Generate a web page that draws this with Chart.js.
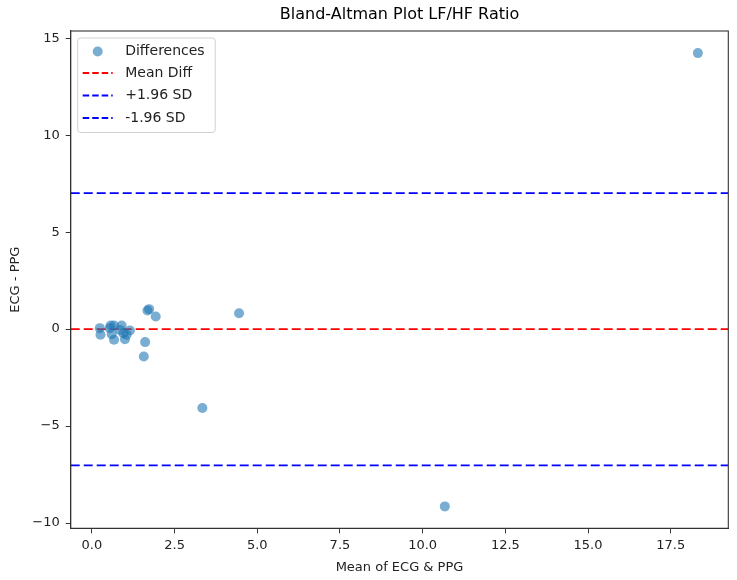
<!DOCTYPE html>
<html>
<head>
<meta charset="utf-8">
<script src="https://cdn.jsdelivr.net/npm/chart.js@4.4.1/dist/chart.umd.min.js"></script>
<style>
html,body{margin:0;padding:0;background:#fff;}
#wrap{width:737px;height:580px;position:relative;}
</style>
</head>
<body>
<div id="wrap"><canvas id="c" width="737" height="580"></canvas></div>
<script>
// Data
const meanECGPPG = [18.32, 10.67, 4.45, 3.34, 1.73, 1.68, 1.93, 1.61, 1.57, 0.24, 0.26, 0.57, 0.67, 0.90, 0.60, 0.67, 0.95, 1.00, 1.15, 0.85, 1.05, 0.54];
const diffECGPPG = [14.23, -9.14, 0.82, -4.07, 1.03, 0.96, 0.65, -0.67, -1.41, 0.05, -0.29, 0.19, 0.19, 0.19, -0.26, -0.55, -0.21, -0.52, -0.07, -0.04, -0.29, 0.05];
const meanDiff = [0.0];
const upperLoA = [7.01];
const lowerLoA = [-7.03];
const xLimits = [-0.64, 19.24];
const yLimits = [-10.27, 15.37];
const xTickValues = [0, 2.5, 5, 7.5, 10, 12.5, 15, 17.5];
const yTickValues = [-10, -5, 0, 5, 10, 15];
const legendLabels = ['Differences', 'Mean Diff', '+1.96 SD', '-1.96 SD'];

const FONT = 'DejaVu Sans';
const scatterColor = 'rgba(31,119,180,0.6)';
const inkColor = '#222';

const points = meanECGPPG.map((x, i) => ({x: x, y: diffECGPPG[i]}));
const hline = v => [{x: xLimits[0], y: v}, {x: xLimits[1], y: v}];

const frame = {
  id: 'frame',
  afterDatasetsDraw(chart) {
    const a = chart.chartArea, ctx = chart.ctx;
    ctx.save();
    ctx.strokeStyle = '#333';
    ctx.lineWidth = 1.1;
    ctx.strokeRect(a.left, a.top, a.right - a.left, a.bottom - a.top);
    // title
    ctx.fillStyle = '#000';
    ctx.font = '16px "' + FONT + '"';
    ctx.textAlign = 'center';
    ctx.textBaseline = 'middle';
    ctx.fillText('Bland-Altman Plot LF/HF Ratio', (a.left + a.right) / 2, 15);
    ctx.restore();
  },
  afterDraw(chart) {
    const a = chart.chartArea, ctx = chart.ctx;
    const bx = a.left + 7, by = a.top + 7, bw = 137.5, bh = 94.5;
    ctx.save();
    // legend box
    ctx.beginPath();
    const r = 3;
    ctx.moveTo(bx + r, by);
    ctx.lineTo(bx + bw - r, by); ctx.quadraticCurveTo(bx + bw, by, bx + bw, by + r);
    ctx.lineTo(bx + bw, by + bh - r); ctx.quadraticCurveTo(bx + bw, by + bh, bx + bw - r, by + bh);
    ctx.lineTo(bx + r, by + bh); ctx.quadraticCurveTo(bx, by + bh, bx, by + bh - r);
    ctx.lineTo(bx, by + r); ctx.quadraticCurveTo(bx, by, bx + r, by);
    ctx.closePath();
    ctx.fillStyle = 'rgba(255,255,255,0.8)';
    ctx.fill();
    ctx.strokeStyle = '#d0d0d0';
    ctx.lineWidth = 1;
    ctx.stroke();
    const rowsY = [by + 13.5, by + 35, by + 57.5, by + 80];
    const colors = [null, 'red', 'blue', 'blue'];
    ctx.font = '14px "' + FONT + '"';
    ctx.textAlign = 'left';
    ctx.textBaseline = 'middle';
    for (let i = 0; i < 4; i++) {
      const y = rowsY[i];
      if (i === 0) {
        ctx.beginPath();
        ctx.arc(bx + 20, y, 5, 0, Math.PI * 2);
        ctx.fillStyle = scatterColor;
        ctx.fill();
      } else {
        ctx.beginPath();
        ctx.setLineDash([6.5, 3]);
        ctx.strokeStyle = colors[i];
        ctx.lineWidth = 1.8;
        ctx.moveTo(bx + 5, y);
        ctx.lineTo(bx + 35, y);
        ctx.stroke();
        ctx.setLineDash([]);
      }
      ctx.fillStyle = inkColor;
      ctx.fillText(legendLabels[i], bx + 47.5, y);
    }
    ctx.restore();
  }
};

const lineDs = (label, v, color) => ({
  type: 'line', label: label, data: hline(v),
  borderColor: color, borderWidth: 1.8, borderDash: [9, 4],
  pointRadius: 0, fill: false, tension: 0
});

new Chart(document.getElementById('c'), {
  type: 'scatter',
  data: {
    datasets: [
      {label: legendLabels[0], data: points, backgroundColor: scatterColor, borderWidth: 0, pointRadius: 5, pointHoverRadius: 5, order: 0},
      Object.assign(lineDs(legendLabels[1], meanDiff[0], 'red'), {order: 1}),
      Object.assign(lineDs(legendLabels[2], upperLoA[0], 'blue'), {order: 1}),
      Object.assign(lineDs(legendLabels[3], lowerLoA[0], 'blue'), {order: 1})
    ]
  },
  options: {
    responsive: false,
    animation: false,
    devicePixelRatio: 1,
    layout: {padding: {top: 31, right: 8.7, left: 0, bottom: 0}},
    plugins: {legend: {display: false}, title: {display: false}, tooltip: {enabled: false}},
    scales: {
      x: {
        type: 'linear', min: xLimits[0], max: xLimits[1],
        afterFit(s) { s.height = 51.7; },
        afterBuildTicks(s) { s.ticks = xTickValues.map(v => ({value: v})); },
        grid: {display: true, drawOnChartArea: false, drawTicks: true, tickLength: 5, tickColor: '#333', tickWidth: 1},
        border: {display: true, color: '#333', width: 1.1},
        ticks: {color: inkColor, font: {family: FONT, size: 13}, padding: 5, maxRotation: 0, autoSkip: false,
          callback: v => v.toFixed(1)},
        title: {display: true, text: 'Mean of ECG & PPG', color: inkColor, font: {family: FONT, size: 13}, padding: {top: 4, bottom: 5}}
      },
      y: {
        type: 'linear', min: yLimits[0], max: yLimits[1],
        afterFit(s) { s.width = 70.7; },
        afterBuildTicks(s) { s.ticks = yTickValues.map(v => ({value: v})); },
        grid: {display: true, drawOnChartArea: false, drawTicks: true, tickLength: 5, tickColor: '#333', tickWidth: 1},
        border: {display: true, color: '#333', width: 1.1},
        ticks: {color: inkColor, font: {family: FONT, size: 13}, padding: 6, autoSkip: false,
          callback: v => (v < 0 ? '\u2212' + Math.abs(v) : String(v))},
        title: {display: true, text: 'ECG - PPG', color: inkColor, font: {family: FONT, size: 13}, padding: {top: 8, bottom: 4}}
      }
    }
  },
  plugins: [frame]
});
</script>
</body>
</html>
